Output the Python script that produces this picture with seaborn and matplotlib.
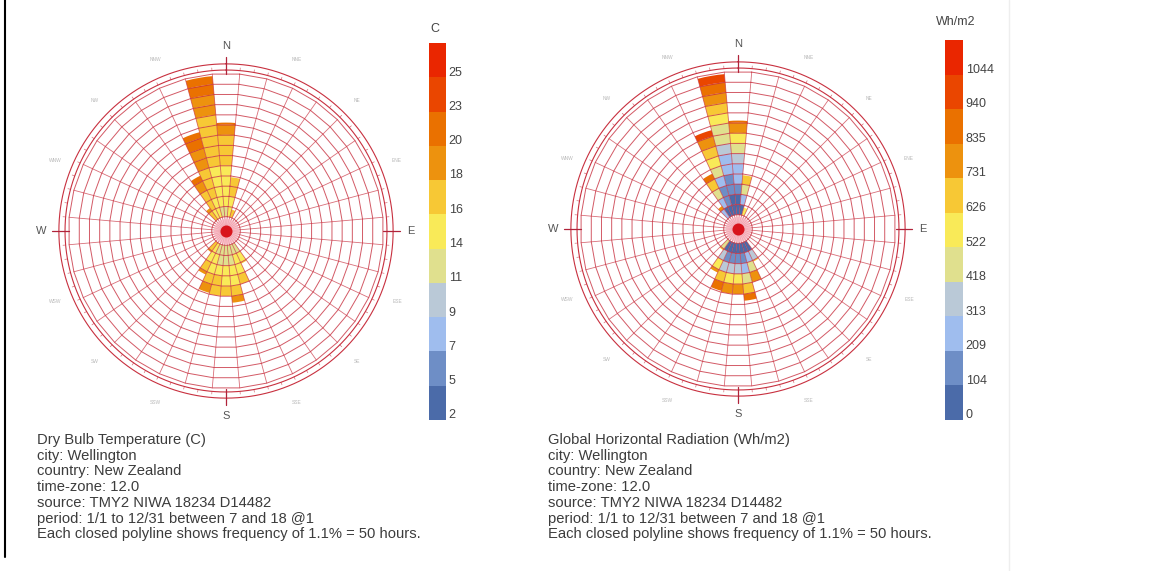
import matplotlib
matplotlib.use("Agg")
import matplotlib.pyplot as plt
import seaborn as sns
import numpy as np
from matplotlib.colors import ListedColormap, BoundaryNorm
from matplotlib.cm import ScalarMappable
from matplotlib.lines import Line2D

sns.set_theme(style="white")
plt.rcParams["font.family"] = ["Liberation Sans", "DejaVu Sans"]

# wind directions (deg from north) and hours blowing from each
directions = [350, 0, 340, 330, 10, 320, 20, 150, 160, 170, 180, 190, 200, 210, 220]
hours = [690, 460, 430, 228, 194, 67, 38, 106, 199, 282, 248, 248, 243, 165, 57]

# one value per 50-hour cell of each petal, centre outwards
temp_cells = [
    [13, 14, 14, 15, 15, 16, 16, 17, 18, 18, 19, 20, 21, 22],
    [13, 14, 14, 15, 15, 16, 17, 18, 19, 21],
    [14, 15, 16, 17, 18, 19, 20, 21, 22],
    [15, 17, 18, 20, 21],
    [14, 15, 16, 18],
    [18, 20],
    [17],
    [13, 15, 17],
    [13, 14, 15, 17],
    [12, 13, 14, 15, 17, 19],
    [12, 13, 14, 15, 17],
    [12, 13, 14, 16, 18],
    [13, 14, 15, 17, 19],
    [14, 15, 17, 19],
    [17, 19],
]
rad_cells = [
    [40, 80, 130, 180, 240, 300, 370, 440, 510, 590, 670, 760, 860, 960],
    [40, 90, 150, 220, 300, 400, 500, 620, 760, 920],
    [60, 120, 200, 300, 420, 540, 660, 800, 950],
    [100, 260, 480, 700, 900],
    [80, 240, 480, 720],
    [300, 750],
    [550],
    [100, 380, 680],
    [60, 260, 520, 780],
    [50, 150, 300, 520, 720, 880],
    [50, 160, 340, 580, 800],
    [50, 170, 360, 620, 820],
    [60, 190, 400, 640, 840],
    [100, 320, 620, 820],
    [420, 720],
]

temp_range = (2.4, 27.26)
temp_labels = ["2", "5", "7", "9", "11", "14", "16", "18", "20", "23", "25"]
rad_range = (0, 1148.4)
rad_labels = ["0", "104", "209", "313", "418", "522", "626", "731", "835", "940", "1044"]

ladybug_colors = ["#4b6ba9", "#7393ca", "#aac8f7", "#c1c9c8", "#f5ef67",
                  "#fce64a", "#ef9c15", "#ea7b00", "#ea4a00", "#ea2600"]
cmap = ListedColormap(sns.blend_palette(ladybug_colors, n_colors=11))

compass = ["NNE", "NE", "ENE", "ESE", "SE", "SSE", "SSW", "SW", "WSW", "WNW", "NW", "NNW"]
compass_deg = [22.5, 45, 67.5, 112.5, 135, 157.5, 202.5, 225, 247.5, 292.5, 315, 337.5]

info_common = ["city: Wellington", "country: New Zealand", "time-zone: 12.0",
               "source: TMY2 NIWA 18234 D14482",
               "period: 1/1 to 12/31 between 7 and 18 @1",
               "Each closed polyline shows frequency of 1.1% = 50 hours."]

CELL = 50
HOLE = 70
N_RINGS = 14
GRID = "#c8303f"
W, H = 1166, 571


def make_norm(lo, hi):
    return BoundaryNorm(np.linspace(lo, hi, 12), 11)


def draw_rose(ax, cells, norm):
    ax.set_theta_zero_location("N")
    ax.set_theta_direction(-1)
    ax.set_ylim(0, 880)
    ax.set_axis_off()
    width = np.deg2rad(10)
    for d, h, vals in zip(directions, hours, cells):
        edges = np.minimum(np.arange(len(vals) + 1) * CELL, h)
        ax.bar(np.full(len(vals), np.deg2rad(d)), np.diff(edges), width=width,
               bottom=HOLE + edges[:-1], color=cmap(norm(vals)),
               linewidth=0, zorder=2)

    # frequency polylines and sector edges
    edge_deg = np.arange(5, 365, 10)
    th = np.deg2rad(np.append(edge_deg, edge_deg[0]))
    r_out = HOLE + N_RINGS * CELL
    for k in range(N_RINGS + 1):
        ax.plot(th, np.full(th.size, HOLE + k * CELL), color=GRID, lw=0.7, alpha=0.8, zorder=3)
    for t in np.deg2rad(edge_deg):
        ax.plot([t, t], [22, r_out], color=GRID, lw=0.6, alpha=0.7, zorder=3)

    # compass ring
    full = np.linspace(0, 2 * np.pi, 361)
    ax.plot(full, np.full(full.size, 787), color=GRID, lw=0.8, zorder=3)
    ax.plot(full, np.full(full.size, 817), color=GRID, lw=0.8, zorder=3)
    for t in np.deg2rad(np.arange(0, 360, 5)):
        ax.plot([t, t], [787, 800], color=GRID, lw=0.5, alpha=0.7, zorder=3)
    for t, lab in zip(np.deg2rad([0, 90, 180, 270]), ["N", "E", "S", "W"]):
        ax.plot([t, t], [770, 850], color="#b0233a", lw=0.9, zorder=3)
        ax.text(t, 905, lab, ha="center", va="center", fontsize=8, color="#555555")
    for d, lab in zip(compass_deg, compass):
        ax.text(np.deg2rad(d), 905, lab, ha="center", va="center", fontsize=3.5, color="#b8b8b8")

    # calm centre
    ax.scatter([0], [0], s=330, color="#f8b4bf", alpha=0.8, linewidth=0, zorder=4)
    ax.scatter([0], [0], s=75, color="#d8141c", linewidth=0, zorder=5)


def draw_legend(fig, rect, lo, hi, labels, title, title_x, title_y):
    cax = fig.add_axes(rect)
    norm = make_norm(lo, hi)
    cb = fig.colorbar(ScalarMappable(norm=norm, cmap=cmap), cax=cax)
    step = (hi - lo) / 11
    cb.set_ticks(np.linspace(lo, hi, 12)[:-1] + 0.18 * step)
    cb.set_ticklabels(labels)
    cb.minorticks_off()
    cax.tick_params(which="both", length=0, width=0, pad=2, labelsize=9, labelcolor="#444444")
    cb.outline.set_visible(False)
    fig.text(title_x / W, 1 - title_y / H, title, ha="center", va="center",
             fontsize=9, color="#444444")


fig = plt.figure(figsize=(W / 100, H / 100), dpi=100)

ax1 = fig.add_axes([(226 - 180) / W, (H - 231 - 180) / H, 360 / W, 360 / H], projection="polar")
draw_rose(ax1, temp_cells, make_norm(*temp_range))
ax2 = fig.add_axes([(738 - 180) / W, (H - 229 - 180) / H, 360 / W, 360 / H], projection="polar")
draw_rose(ax2, rad_cells, make_norm(*rad_range))

draw_legend(fig, [429 / W, (H - 420) / H, 17 / W, 377 / H], *temp_range, temp_labels, "C", 435, 29)
draw_legend(fig, [945 / W, (H - 420) / H, 18 / W, 380 / H], *rad_range, rad_labels, "Wh/m2", 956, 22)

for x0, title in [(37, "Dry Bulb Temperature (C)"), (548, "Global Horizontal Radiation (Wh/m2)")]:
    for i, line in enumerate([title] + info_common):
        fig.text(x0 / W, 1 - (440 + i * 15.7) / H, line, ha="left", va="center",
                 fontsize=10.6, color="#3c3c3c")

fig.add_artist(Line2D([5 / W, 5 / W], [1, 1 - 557 / H], transform=fig.transFigure, color="black", lw=1.5))
fig.add_artist(Line2D([1009 / W, 1009 / W], [1, 0], transform=fig.transFigure, color="#eeeeee", lw=1))

fig.savefig("out.png", dpi=100)
plt.close(fig)
